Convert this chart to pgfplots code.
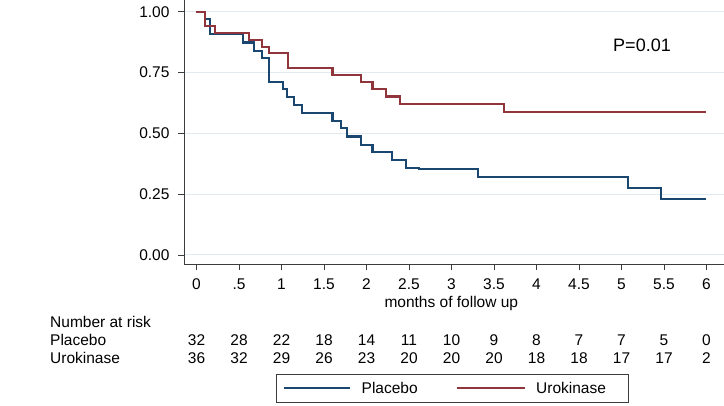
\documentclass[border=0pt]{standalone}
\usepackage{fontspec}
\setmainfont{Liberation Sans}
\usepackage{pgfplots}
\pgfplotsset{compat=1.18}
\definecolor{kmblue}{HTML}{1A476F}
\definecolor{kmred}{HTML}{90353B}
\definecolor{gridc}{HTML}{E1EAEE}
\definecolor{axc}{HTML}{3C3C3C}
\newcommand{\fs}{\fontsize{15.5bp}{18bp}\selectfont}
\newcommand{\fp}{\fontsize{18bp}{21bp}\selectfont}
\begin{document}
\begin{tikzpicture}[x=1bp,y=1bp]
\path[use as bounding box] (0,0) rectangle (724,405);
\begin{axis}[
  at={(184bp,141bp)}, anchor=south west,
  scale only axis, width=540bp, height=264bp,
  xmin=-0.147, xmax=6.206, ymin=-0.037, ymax=1.048,
  axis x line*=bottom, axis y line*=left,
  axis line style={axc, line width=0.9bp, -},
  xtick={0,0.5,1,1.5,2,2.5,3,3.5,4,4.5,5,5.5,6},
  xticklabels={0,.5,1,1.5,2,2.5,3,3.5,4,4.5,5,5.5,6},
  ytick={0,0.25,0.5,0.75,1},
  yticklabels={0.00,0.25,0.50,0.75,1.00},
  tick align=outside, major tick length=6bp,
  tick style={axc, line width=0.9bp},
  ymajorgrids, grid style={gridc, line width=1bp},
  tick label style={font=\fs, text=black},
  xticklabel style={yshift=-5bp},
  yticklabel style={xshift=-5bp},
  xlabel={months of follow up},
  xlabel style={font=\fs, at={(axis description cs:0.495,-0.150)}, anchor=center},
]
\addplot[const plot, kmblue, line width=2.2bp] coordinates {
(0,1.0) (0.104,0.970) (0.159,0.908) (0.55,0.873) (0.673,0.840) (0.767,0.808)
(0.856,0.712) (1.02,0.681) (1.06,0.648) (1.147,0.617) (1.241,0.585)
(1.60,0.552) (1.70,0.521) (1.767,0.487) (1.935,0.452) (2.07,0.422)
(2.296,0.390) (2.465,0.356) (2.62,0.353) (3.315,0.322) (5.073,0.274)
(5.465,0.231) (5.994,0.231)};
\addplot[const plot, kmred, line width=2.2bp] coordinates {
(0,1.0) (0.096,0.941) (0.218,0.911) (0.62,0.884) (0.77,0.856) (0.853,0.831)
(1.073,0.767) (1.60,0.740) (1.935,0.712) (2.07,0.681) (2.23,0.651)
(2.39,0.619) (3.62,0.587) (5.99,0.587)};
\end{axis}
\node[font=\fp] at (642,360) {P=0.01};
\node[font=\fs, anchor=west, inner sep=0pt] at (50,83.3) {Number at risk};
\node[font=\fs, anchor=west, inner sep=0pt] at (50,65) {Placebo};
\node[font=\fs, anchor=west, inner sep=0pt] at (50,46.7) {Urokinase};
\foreach \n [count=\i from 0] in {32,28,22,18,14,11,10,9,8,7,7,5,0}
  \node[font=\fs, inner sep=0pt] at ({196.5+42.5*\i},65) {\n};
\foreach \n [count=\i from 0] in {36,32,29,26,23,20,20,20,18,18,17,17,2}
  \node[font=\fs, inner sep=0pt] at ({196.5+42.5*\i},46.7) {\n};
\draw[axc, line width=0.8bp] (276,3) rectangle (628,31);
\draw[kmblue, line width=2.2bp] (284,17) -- (350,17);
\node[font=\fs, anchor=west, inner sep=0pt] at (361.5,17) {Placebo};
\draw[kmred, line width=2.2bp] (457,17) -- (525,17);
\node[font=\fs, anchor=west, inner sep=0pt] at (536,17) {Urokinase};
\end{tikzpicture}
\end{document}
